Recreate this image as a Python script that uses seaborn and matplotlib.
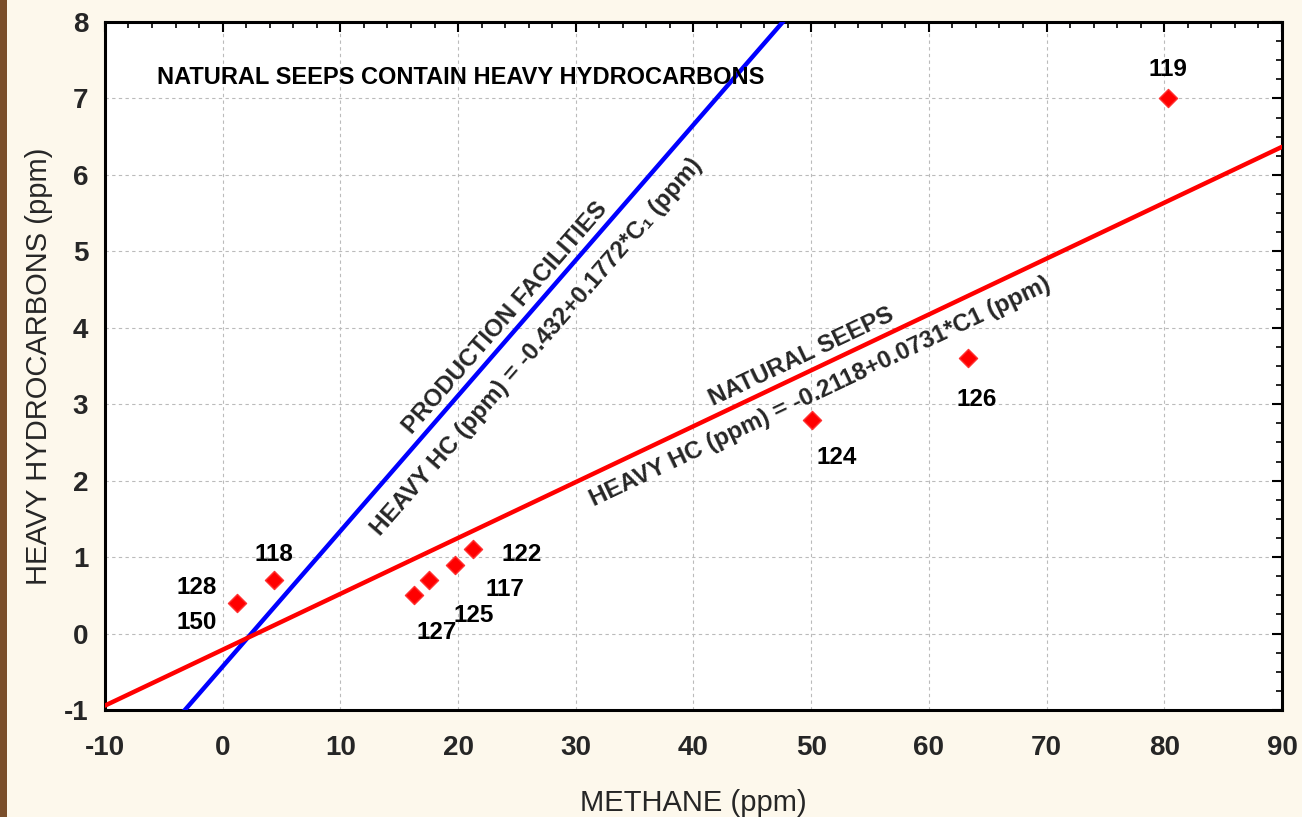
import numpy as np
import pandas as pd
import matplotlib
matplotlib.use("Agg")
import matplotlib.pyplot as plt
from matplotlib.ticker import MultipleLocator
from matplotlib.patches import Rectangle
import seaborn as sns

# ---- data ----
sample_ids = ["150", "118", "127", "125", "117", "122", "124", "126", "119"]
methane = [1.2, 4.4, 16.3, 17.5, 19.7, 21.3, 50.1, 63.3, 80.3]
heavy_hc = [0.4, 0.7, 0.5, 0.7, 0.9, 1.1, 2.8, 3.6, 7.0]

# point label texts and positions (data coords)
label_texts = ["128", "150", "118", "127", "125", "117", "122", "124", "126", "119"]
label_x = [-2.2, -2.2, 4.4, 18.2, 21.3, 24.0, 25.4, 52.2, 64.1, 80.3]
label_y = [0.6, 0.15, 1.03, 0.02, 0.24, 0.58, 1.03, 2.3, 3.06, 7.38]

# regression lines
prod_intercept, prod_slope = -0.432, 0.1772
seep_intercept, seep_slope = -0.2118, 0.0731
line_x = [-10, 90]

x_ticks = [-10, 0, 10, 20, 30, 40, 50, 60, 70, 80, 90]
y_ticks = [-1, 0, 1, 2, 3, 4, 5, 6, 7, 8]

# ---- style ----
sns.set_theme(style="white")
plt.rcParams['font.family'] = ['Liberation Sans', 'DejaVu Sans']

bg = '#FDF8EC'
fig = plt.figure(figsize=(13.02, 8.17), dpi=100, facecolor=bg)
ax = fig.add_axes([0.0806, 0.131, 0.904, 0.842])
ax.set_facecolor('white')

# brown strip at left edge
fig.patches.append(Rectangle((0, 0), 0.005, 1, transform=fig.transFigure,
                             facecolor='#7A4E2A', edgecolor='none', zorder=0))

xs = np.array(line_x, dtype=float)
prod_df = pd.DataFrame({"x": xs, "y": prod_intercept + prod_slope * xs})
seep_df = pd.DataFrame({"x": xs, "y": seep_intercept + seep_slope * xs})
sns.lineplot(data=prod_df, x="x", y="y", ax=ax, color='#0000FF', linewidth=3.2, zorder=3)
sns.lineplot(data=seep_df, x="x", y="y", ax=ax, color='#FF0000', linewidth=3.2, zorder=3)

pts = pd.DataFrame({"id": sample_ids, "x": methane, "y": heavy_hc})
sns.scatterplot(data=pts, x="x", y="y", ax=ax, marker='D', s=85, color='#FF0000',
                edgecolor='#FF3030', linewidth=1.0, zorder=4)

for t, lx, ly in zip(label_texts, label_x, label_y):
    ax.text(lx, ly, t, ha='center', va='center', fontsize=17.5, fontweight='bold',
            color='black', zorder=5)

ax.text(0.0445, 0.92, "NATURAL SEEPS CONTAIN HEAVY HYDROCARBONS",
        transform=ax.transAxes, ha='left', va='center', fontsize=17,
        fontweight='bold', color='black')

fs_rot = 17.4
ax.text(24.0, 4.13, "PRODUCTION FACILITIES", rotation=49, ha='center', va='center',
        fontsize=fs_rot, fontweight='bold', rotation_mode='anchor')
ax.text(26.7, 3.75, "HEAVY HC (ppm) = -0.432+0.1772*C\u2081 (ppm)", rotation=49,
        ha='center', va='center', fontsize=fs_rot, fontweight='bold', rotation_mode='anchor',
        family=['Liberation Sans', 'DejaVu Sans'])
ax.text(49.2, 3.62, "NATURAL SEEPS", rotation=25.4, ha='center', va='center',
        fontsize=fs_rot, fontweight='bold', rotation_mode='anchor')
ax.text(50.75, 3.16, "HEAVY HC (ppm) = -0.2118+0.0731*C1 (ppm)", rotation=25.4,
        ha='center', va='center', fontsize=fs_rot, fontweight='bold', rotation_mode='anchor')

ax.set_xlim(-10, 90)
ax.set_ylim(-1, 8)
ax.set_xticks(x_ticks)
ax.set_yticks(y_ticks)
ax.set_xticklabels([str(v) for v in x_ticks], fontsize=20, fontweight='bold')
ax.set_yticklabels([str(v) for v in y_ticks], fontsize=20, fontweight='bold')
ax.xaxis.set_minor_locator(MultipleLocator(2))
ax.yaxis.set_minor_locator(MultipleLocator(0.25))
ax.tick_params(which='major', direction='in', length=7, width=1.5, color='black',
               top=True, right=True)
ax.tick_params(which='minor', direction='in', length=4, width=1.2, color='black',
               top=True, right=True)
ax.tick_params(axis='x', which='major', pad=18)
ax.tick_params(axis='y', which='major', pad=12)

ax.grid(True, which='major', linestyle=(0, (3, 3)), color='#BBBBBB', linewidth=0.8)
ax.set_axisbelow(True)
for s in ax.spines.values():
    s.set_color('black')
    s.set_linewidth(2.2)

ax.set_xlabel("METHANE (ppm)", fontsize=21, labelpad=20)
ax.set_ylabel("HEAVY HYDROCARBONS (ppm)", fontsize=21, labelpad=8)
if ax.get_legend():
    ax.get_legend().remove()

fig.savefig("out.png", dpi=100, facecolor=bg)
